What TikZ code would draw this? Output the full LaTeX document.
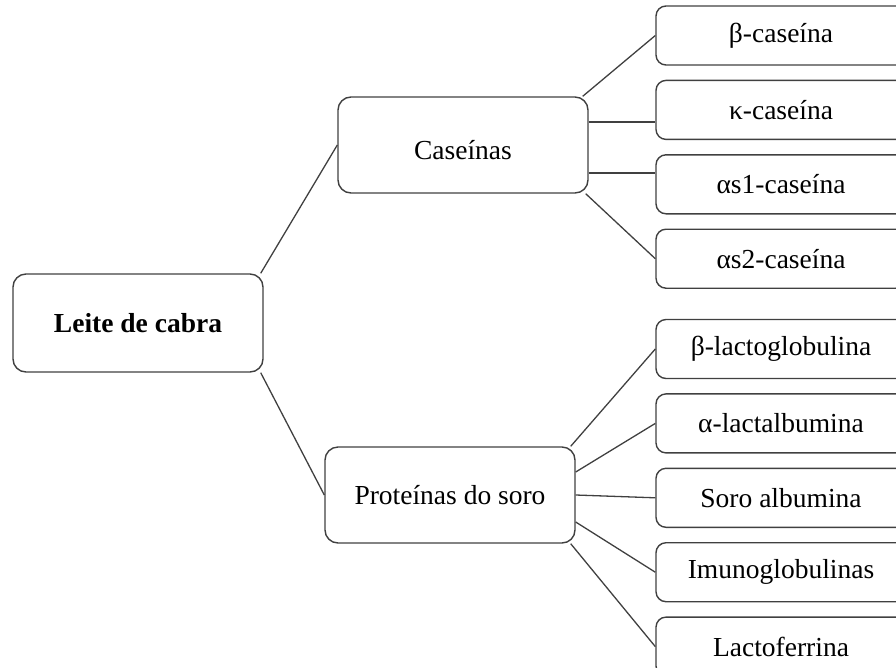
\documentclass[tikz,border=0pt]{standalone}
\usepackage{fontspec}
\setmainfont{Liberation Serif}
\usepackage{xcolor}
\usepackage{tikz}
\usetikzlibrary{positioning}

\definecolor{edgegray}{HTML}{404040}

\begin{document}
\begin{tikzpicture}[x=1pt,y=1pt]
        % Styles
        \tikzstyle{box} = [rectangle,draw=edgegray,line width=1.4pt,inner sep=0pt,
        minimum width=250pt, font=\fontsize{27.5}{33}\selectfont]
        \tikzstyle{root} = [box, rounded corners=13pt, minimum height=98pt,
        font=\fontsize{27.5}{33}\selectfont\bfseries]
        \tikzstyle{group} = [box, rounded corners=13pt, minimum height=96pt]
        \tikzstyle{item} = [box, rounded corners=10pt, minimum height=59pt]
        \tikzstyle{link} = [draw=edgegray, line width=1.3pt]

        % Frame
        \useasboundingbox (0,0) rectangle (896,-667);
        \clip (0,0) rectangle (896,-667);

        % Nodes
        \node (milk)    [root]                          at (138,-323)   {Leite de cabra};
        \node (cas)     [group]                         at (463,-145)   {\raisebox{0pt}[\dimexpr\height+10pt\relax]{Caseínas}};
        \node (whey)    [group]                         at (450,-495)   {Proteínas do soro};

        \node (cas1)    [item]                          at (781,-35.5)  {β-caseína};
        \node (cas2)    [item, below=14pt of cas1]                      {κ-caseína};
        \node (cas3)    [item, below=14pt of cas2]                      {αs1-caseína};
        \node (cas4)    [item, below=14pt of cas3]                      {αs2-caseína};

        \node (whey1)   [item]                          at (781,-349)   {β-lactoglobulina};
        \node (whey2)   [item, below=14pt of whey1]                     {α-lactalbumina};
        \node (whey3)   [item, below=14pt of whey2]                     {Soro albumina};
        \node (whey4)   [item, below=14pt of whey3]                     {Imunoglobulinas};
        \node (whey5)   [item, below=14pt of whey4]                     {Lactoferrina};

        % Edges
        \draw [link] ([xshift=-3pt]milk.north east) -- (cas.west);
        \draw [link] ([xshift=-3pt]milk.south east) -- (whey.west);

        \draw [link] ([xshift=-6pt]cas.north east) -- (cas1.west);
        \draw [link] ([yshift=23pt]cas.east) -- ([yshift=23pt]cas.east -| cas2.west);
        \draw [link] ([yshift=-28pt]cas.east) -- ([yshift=-28pt]cas.east -| cas3.west);
        \draw [link] ([xshift=-3pt]cas.south east) -- (cas4.west);

        \draw [link] ([xshift=-5pt]whey.north east) -- (whey1.west);
        \draw [link] ([yshift=23pt]whey.east) -- (whey2.west);
        \draw [link] (whey.east) -- (whey3.west);
        \draw [link] ([yshift=-27pt]whey.east) -- (whey4.west);
        \draw [link] ([xshift=-5pt]whey.south east) -- (whey5.west);

\end{tikzpicture}
\end{document}
